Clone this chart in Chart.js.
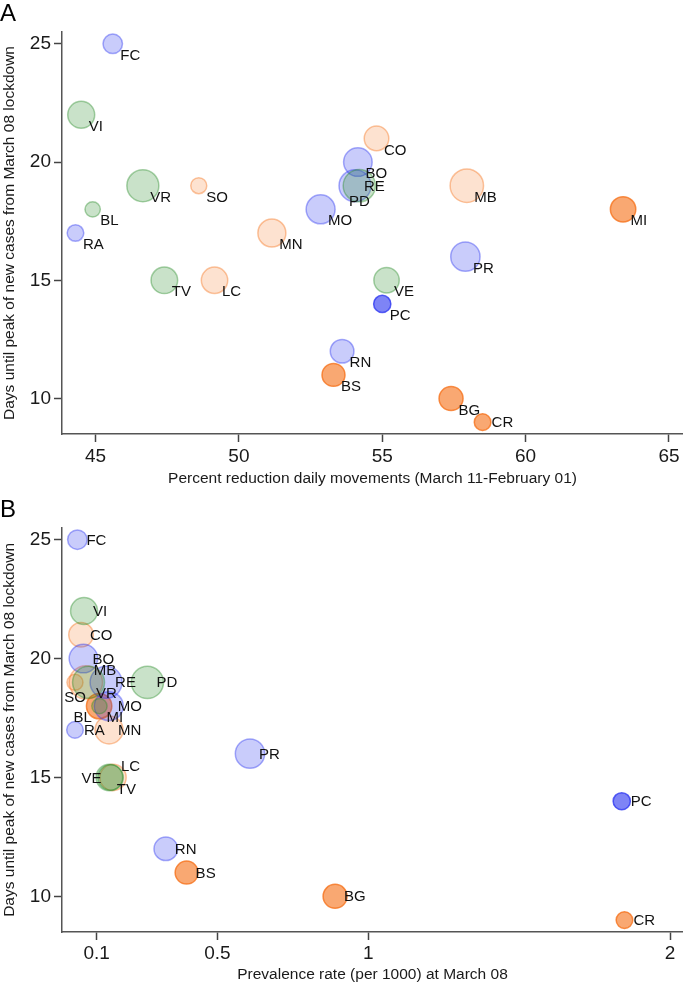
<!DOCTYPE html>
<html>
<head>
<meta charset="utf-8">
<script src="https://cdn.jsdelivr.net/npm/chart.js@4"></script>
<style>
  body { margin: 0; background: #fff; }
  canvas { display: block; }
</style>
</head>
<body>
<canvas id="chartA" width="683" height="496"></canvas>
<canvas id="chartB" width="683" height="488"></canvas>
<script>
// province codes
const provinces = ['FC','VI','CO','BO','VR','SO','RE','PD','MB','BL','MO','MI','RA','MN','PR','TV','LC','VE','PC','RN','BS','BG','CR']
const regions   = ['ER','VEN','LOM','ER','VEN','LOM','ER','VEN','LOM','VEN','ER','LOM','ER','LOM','ER','VEN','LOM','VEN','ER','ER','LOM','LOM','LOM']
// days until peak of new cases from March 08 lockdown
const peakDays = [25, 22, 21, 20, 19, 19, 19, 19, 19, 18, 18, 18, 17, 17, 16, 15, 15, 15, 14, 12, 11, 10, 9]
// percent reduction daily movements (March 11 - February 01)
const mobilityDrop = [45.6, 44.5, 54.8, 54.15, 46.65, 48.6, 54.05, 54.2, 57.95, 44.9, 52.85, 63.4, 44.3, 51.15, 57.9, 47.4, 49.15, 55.15, 55.0, 53.6, 53.3, 57.4, 58.5]
// prevalence rate (per 1000) at March 08
const prevalence = [0.036, 0.058, 0.048, 0.056, 0.073, 0.028, 0.131, 0.268, 0.064, 0.109, 0.14, 0.108, 0.028, 0.141, 0.608, 0.142, 0.154, 0.146, 1.84, 0.329, 0.398, 0.89, 1.849]
// bubble weight
const weights = [9.5, 18.2, 15.1, 20.4, 25.6, 6.4, 25.6, 26, 27.9, 5.9, 21.0, 16.1, 6.9, 19.6, 21.5, 17.7, 17.4, 16.1, 7.4, 14, 13.2, 14.4, 6.9]

const ticksXA = [45, 50, 55, 60, 65]
const ticksXB = [0.1, 0.5, 1, 2]
const ticksY = [10, 15, 20, 25]

const titleY = 'Days until peak of new cases from March 08 lockdown'
const titleXA = 'Percent reduction daily movements (March 11-February 01)'
const titleXB = 'Prevalence rate (per 1000) at March 08'

// styling
const FONT = '"Liberation Sans", Arial, Helvetica, sans-serif'
Chart.defaults.font.family = FONT
Chart.defaults.color = '#1a1a1a'

const regionRGB = { ER: '40,50,240', VEN: '40,140,40', LOM: '245,110,20' }
const regionDrawOrder = ['LOM', 'ER', 'VEN']
const strongShade = ['PC', 'MI', 'BS', 'BG', 'CR']

function fillColor(i) {
    let a = strongShade.includes(provinces[i]) ? 0.6 : (regions[i] === 'LOM' ? 0.2 : 0.25)
    return 'rgba(' + regionRGB[regions[i]] + ',' + a + ')'
}
function lineColor(i) {
    let a = strongShade.includes(provinces[i]) ? 0.75 : 0.4
    return 'rgba(' + regionRGB[regions[i]] + ',' + a + ')'
}

// clock positions for marker labels: [dx, dy, align]
const clockOffsets = {
    2: [8, -11, 'left'],
    3: [9, 1, 'left'],
    4: [7.5, 12, 'left'],
    6: [0, 16, 'center'],
    7: [-7.5, 12, 'right'],
    9: [-9, 1, 'right']
}

const markerLabels = {
    id: 'markerLabels',
    afterDatasetsDraw(chart, args, opts) {
        const ctx = chart.ctx
        const meta = chart.getDatasetMeta(0)
        const pts = chart.data.datasets[0].data
        ctx.save()
        ctx.font = '15px ' + FONT
        ctx.fillStyle = '#111'
        ctx.textBaseline = 'middle'
        meta.data.forEach((el, k) => {
            let code = pts[k].code
            let pos = opts.positions[code] || opts.defaultPos
            let [dx, dy, align] = clockOffsets[pos]
            ctx.textAlign = align
            ctx.fillText(code, el.x + dx, el.y + dy)
        })
        ctx.restore()
    }
}

function makeOptions(panel, xTitle, xMin, xMax, xTicks, xHeight, xTickPad, xTitlePad, titlePadBottom, positions, defaultPos) {
    const axisCommon = {
        type: 'linear',
        border: { display: true, color: '#555', width: 1.5 },
        grid: { display: true, drawOnChartArea: false, drawTicks: true, tickLength: 8, tickColor: '#444', tickWidth: 1.5 },
    }
    return {
        responsive: false,
        animation: false,
        layout: { autoPadding: false, padding: 0 },   // bubbles would otherwise pad the right side
        events: [],
        plugins: {
            legend: { display: false },
            tooltip: { enabled: false },
            title: {
                display: true, text: panel, align: 'start',
                font: { size: 24, weight: 'normal' }, color: '#000',
                padding: { top: 0, bottom: titlePadBottom }
            },
            markerLabels: { positions: positions, defaultPos: defaultPos }
        },
        scales: {
            x: {
                ...axisCommon,
                min: xMin, max: xMax,
                afterBuildTicks: s => { s.ticks = xTicks.map(v => ({ value: v })) },
                afterFit: s => { s.height = xHeight; s.paddingLeft = 0; s.paddingRight = 0 },
                ticks: { autoSkip: false, maxRotation: 0, padding: xTickPad, font: { size: 19 }, color: '#1a1a1a', callback: v => String(v) },
                title: { display: true, text: xTitle, font: { size: 15.5 }, color: '#1a1a1a', padding: { top: 0, bottom: xTitlePad } }
            },
            y: {
                ...axisCommon,
                min: 8.5, max: 25.5,
                afterBuildTicks: s => { s.ticks = ticksY.map(v => ({ value: v })) },
                afterFit: s => { s.width = 62 },
                ticks: { autoSkip: false, padding: 3, font: { size: 19 }, color: '#1a1a1a', callback: v => String(v) },
                title: { display: true, text: titleY, font: { size: 15.5 }, color: '#1a1a1a', padding: { top: 0, bottom: 0 } }
            }
        }
    }
}

function bubbleData(xValues) {
    // draw Lombardy first, then Emilia-Romagna, then Veneto on top
    let order = provinces.map((p, i) => i)
        .sort((a, b) => regionDrawOrder.indexOf(regions[a]) - regionDrawOrder.indexOf(regions[b]) || a - b)
    return {
        datasets: [{
            data: order.map(i => ({ x: xValues[i], y: peakDays[i], r: Math.sqrt(weights[i] * 10), code: provinces[i] })),
            backgroundColor: order.map(i => fillColor(i)),
            borderColor: order.map(i => lineColor(i)),
            borderWidth: 1.5
        }]
    }
}

window.chartA = new Chart(document.getElementById('chartA').getContext('2d'), {
    type: 'bubble',
    data: bubbleData(mobilityDrop),
    options: makeOptions('A', titleXA, 43.83, 65.49, ticksXA, 62, 3.5, 8, 3.2, { RE: 3, PD: 6, CR: 3 }, 4),
    plugins: [markerLabels]
})

window.chartB = new Chart(document.getElementById('chartB').getContext('2d'), {
    type: 'bubble',
    data: bubbleData(prevalence),
    options: makeOptions('B', titleXB, -0.015, 2.043, ticksXB, 52, 2, 0, 3,
        { SO: 6, MB: 2, VR: 4, MI: 4, BL: 7, VE: 9, LC: 2, TV: 4 }, 3),
    plugins: [markerLabels]
})
</script>
</body>
</html>
